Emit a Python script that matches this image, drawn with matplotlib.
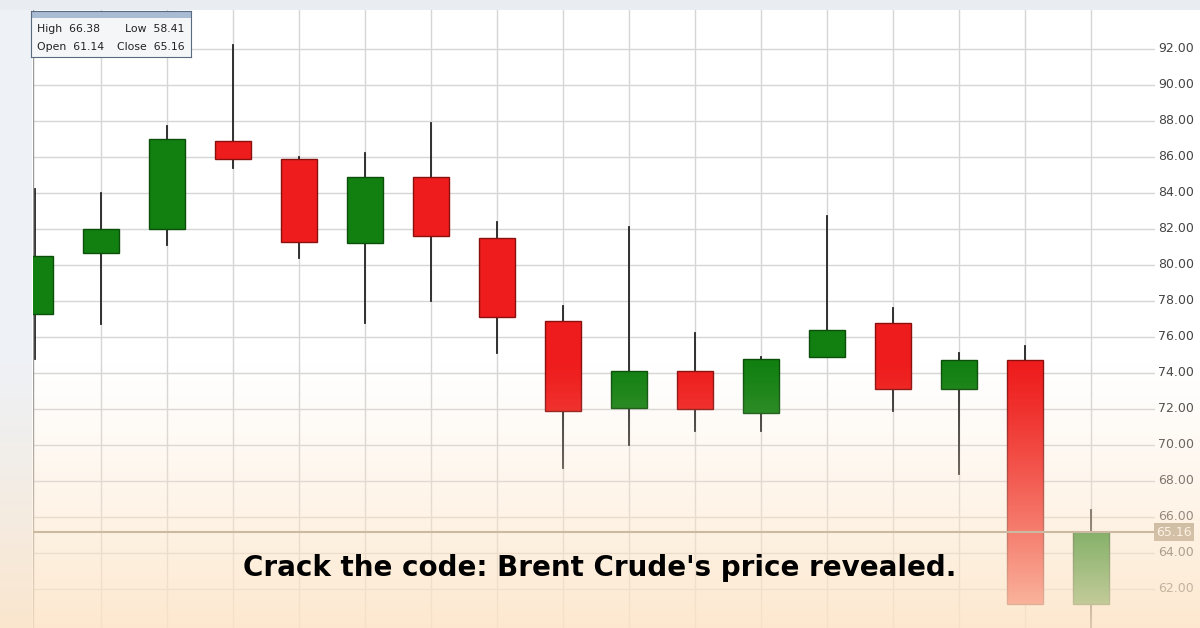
import matplotlib
matplotlib.use("Agg")
import matplotlib.pyplot as plt
import numpy as np
from matplotlib.patches import Rectangle

opens  = [77.3, 80.67, 82.0, 86.9, 85.9, 81.2, 84.9, 81.5, 76.9, 72.05, 74.1, 71.8, 74.9, 76.8, 73.1, 74.7, 61.14]
closes = [80.5, 82.0, 87.0, 85.9, 81.3, 84.9, 81.6, 77.1, 71.9, 74.1, 72.0, 74.8, 76.4, 73.1, 74.7, 61.14, 65.16]
highs  = [84.2, 84.0, 87.7, 92.2, 86.0, 86.2, 87.9, 82.4, 77.7, 82.1, 76.2, 74.9, 82.7, 77.6, 75.1, 75.5, 66.38]
lows   = [74.8, 76.7, 81.1, 85.4, 80.4, 76.8, 78.0, 75.1, 68.7, 70.0, 70.8, 70.8, 74.9, 71.9, 68.4, 61.14, 58.41]
yticks = [62, 64, 66, 68, 70, 72, 74, 76, 78, 80, 82, 84, 86, 88, 90, 92]
last_close = 65.16

W, H = 1200, 628
fig = plt.figure(figsize=(W/100, H/100), dpi=100)
fig.patch.set_facecolor("white")
ax = fig.add_axes([33/W, 0, (1155-33)/W, (628-10)/H])
ax.set_facecolor("white")
n = len(opens)
x = np.arange(n)
ax.set_xlim((33-35)/66, (1155-35)/66)
ax.set_ylim(92-579/18, 92+39/18)
for t in yticks:
    ax.axhline(t, color="#d6d6d6", lw=1, zorder=0)
for i in x:
    ax.axvline(i + 1, color="#d6d6d6", lw=1, zorder=0)
bw = 36/66
for i in x:
    o, c, h, l = opens[i], closes[i], highs[i], lows[i]
    up = c >= o
    fc = "#118011" if up else "#ee1c1c"
    ec = "#0b4f0b" if up else "#8a1010"
    ax.plot([i, i], [l, h], color="#222222", lw=1.3, zorder=2)
    ax.add_patch(Rectangle((i - bw/2, min(o, c)), bw, abs(c - o), facecolor=fc, edgecolor=ec, lw=1, zorder=3))
ax.axhline(last_close, color="#9c9080", lw=1.5, zorder=4)
for s in ax.spines.values():
    s.set_visible(False)
ax.set_xticks([])
ax.set_yticks([])
for t in yticks:
    ax.text(1.003, t, f"{t:.2f}", transform=ax.get_yaxis_transform(), fontsize=9, color="#444444", va="center", ha="left")
ax.text(1.001, last_close, f"{last_close:.2f}", transform=ax.get_yaxis_transform(), fontsize=9, color="white", va="center", ha="left",
        bbox=dict(boxstyle="square,pad=0.2", fc="#a89c88", ec="none"), zorder=6)
ax.plot([0, 0], [0, 1], transform=ax.transAxes, color="#999999", lw=1)

# left toolbar
tb = fig.add_axes([0, 0, 32/W, 1])
tb.set_facecolor("#eef1f5"); tb.set_xticks([]); tb.set_yticks([])
for s in tb.spines.values(): s.set_visible(False)
# top toolbar
tt = fig.add_axes([0, 1 - 10/H, 1, 10/H])
tt.set_facecolor("#e9ecf0"); tt.set_xticks([]); tt.set_yticks([])
for s in tt.spines.values(): s.set_visible(False)

# info box
ib = fig.add_axes([31/W, 1 - 57/H, 160/W, 46/H], zorder=5)
ib.set_xlim(0, 1); ib.set_ylim(0, 1); ib.set_xticks([]); ib.set_yticks([])
ib.set_facecolor("#f4f6f8")
for s in ib.spines.values(): s.set_color("#5a6a80")
ib.add_patch(Rectangle((0, 0.85), 1, 0.15, fc="#aabbd4", ec="none"))
ib.text(0.04, 0.6, "High  66.38", fontsize=7.8, va="center", color="#222222")
ib.text(0.96, 0.6, "Low  58.41", fontsize=7.8, va="center", ha="right", color="#222222")
ib.text(0.04, 0.22, "Open  61.14", fontsize=7.8, va="center", color="#222222")
ib.text(0.96, 0.22, "Close  65.16", fontsize=7.8, va="center", ha="right", color="#222222")

# gradient overlay
ov = fig.add_axes([0, 0, 1, 1], zorder=10)
ov.set_axis_off()
grad = np.zeros((H, 1, 4))
rows = np.arange(H)
a = np.clip((rows - 360) / (628 - 360), 0, 1) ** 1.2 * 0.85
grad[:, 0, 0] = 253/255; grad[:, 0, 1] = 228/255; grad[:, 0, 2] = 198/255; grad[:, 0, 3] = a
ov.imshow(grad, aspect="auto", extent=[0, 1, 0, 1], origin="upper")
ov.set_xlim(0, 1); ov.set_ylim(0, 1)
ov.text(0.5, 1 - 568/H, "Crack the code: Brent Crude's price revealed.", ha="center", va="center",
        fontsize=20, fontweight="bold", color="black", family="DejaVu Sans")
fig.savefig("out.png", dpi=100)
